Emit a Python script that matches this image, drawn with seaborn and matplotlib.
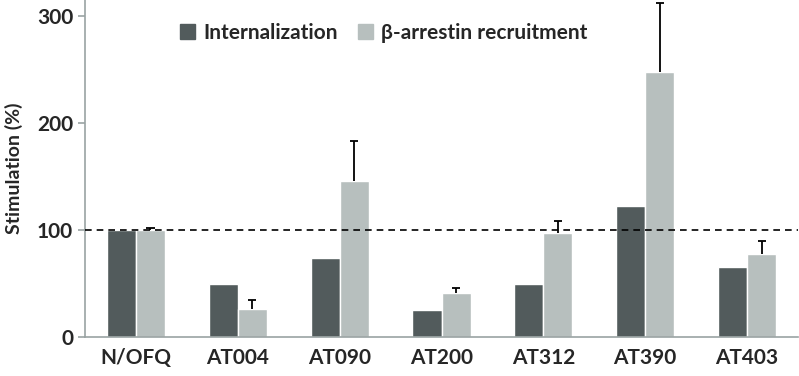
import pandas as pd
import numpy as np
import matplotlib.pyplot as plt
import seaborn as sns

sns.set_theme(style="white")
plt.rcParams["font.family"] = ["Lato", "DejaVu Sans"]
plt.rcParams["font.weight"] = "bold"

# ── Data ─────────────────────────────────────────────────────────────────────
compounds = ["N/OFQ", "AT004", "AT090", "AT200", "AT312", "AT390", "AT403"]
internalization = [100, 50, 73.5, 25, 50, 122, 65.5]
arrestin = [100, 26.5, 146, 41, 97, 247.5, 77.5]
arrestin_err = [2, 8.5, 37.5, 5, 11, 64.5, 12.5]
series = ["Internalization", "β-arrestin recruitment"]

df = pd.DataFrame({
    "compound": compounds * 2,
    "assay": [series[0]] * len(compounds) + [series[1]] * len(compounds),
    "stim": internalization + arrestin,
})

DARK = "#525b5c"
LIGHT = "#b7bfbe"
AXIS = "#9aa3a3"

fig = plt.figure(figsize=(7.99, 3.76), dpi=100)
ax = fig.add_axes([85 / 799, 39 / 376, 713 / 799, 337 / 376])

sns.barplot(data=df, x="compound", y="stim", hue="assay", order=compounds,
            hue_order=series, palette=[DARK, LIGHT], width=0.57,
            saturation=1, errorbar=None, ax=ax, legend=False)

# upward-only error bars (cap on top only) on the arrestin bars
light_bars = ax.containers[1]
xs = np.array([b.get_x() + b.get_width() / 2 for b in light_bars])
tops = np.array(arrestin) + np.array(arrestin_err)
ax.vlines(xs, arrestin, tops, color="black", linewidth=1.3, zorder=4)
ax.hlines(tops, xs - 0.04, xs + 0.04, color="black", linewidth=1.3, zorder=4)

ax.axhline(100, color="black", linestyle=(0, (4, 3)), linewidth=1.2, zorder=5)

ax.set_xlim(-0.5, len(compounds) - 0.5)
ax.set_ylim(0, 315)
ax.set_yticks([0, 100, 200, 300])
ax.set_xlabel("")
ax.set_ylabel("Stimulation (%)", fontsize=14, fontweight="bold", labelpad=10)

for side in ["top", "right"]:
    ax.spines[side].set_visible(False)
for side in ["left", "bottom"]:
    ax.spines[side].set_color(AXIS)
    ax.spines[side].set_linewidth(1.2)

ax.set_xticks(np.arange(-0.5, len(compounds)), minor=True)
ax.tick_params(axis="x", which="major", length=0, labelsize=15, pad=8)
ax.tick_params(axis="x", which="minor", length=5, width=1.2, color=AXIS, direction="out")
ax.tick_params(axis="y", length=5, width=1.2, color=AXIS, direction="out",
               labelsize=15, left=True)
for lbl in ax.get_xticklabels() + ax.get_yticklabels():
    lbl.set_fontweight("bold")

handles = [plt.Rectangle((0, 0), 1, 1, color=c) for c in [DARK, LIGHT]]
fig.legend(handles, series, loc="center", bbox_to_anchor=(384 / 799, 1 - 33 / 376),
           ncol=2, frameon=False, handlelength=0.7, handleheight=0.7,
           handletextpad=0.4, columnspacing=1.0,
           prop={"size": 15, "weight": "bold"})

plt.savefig("out.png", dpi=100)
